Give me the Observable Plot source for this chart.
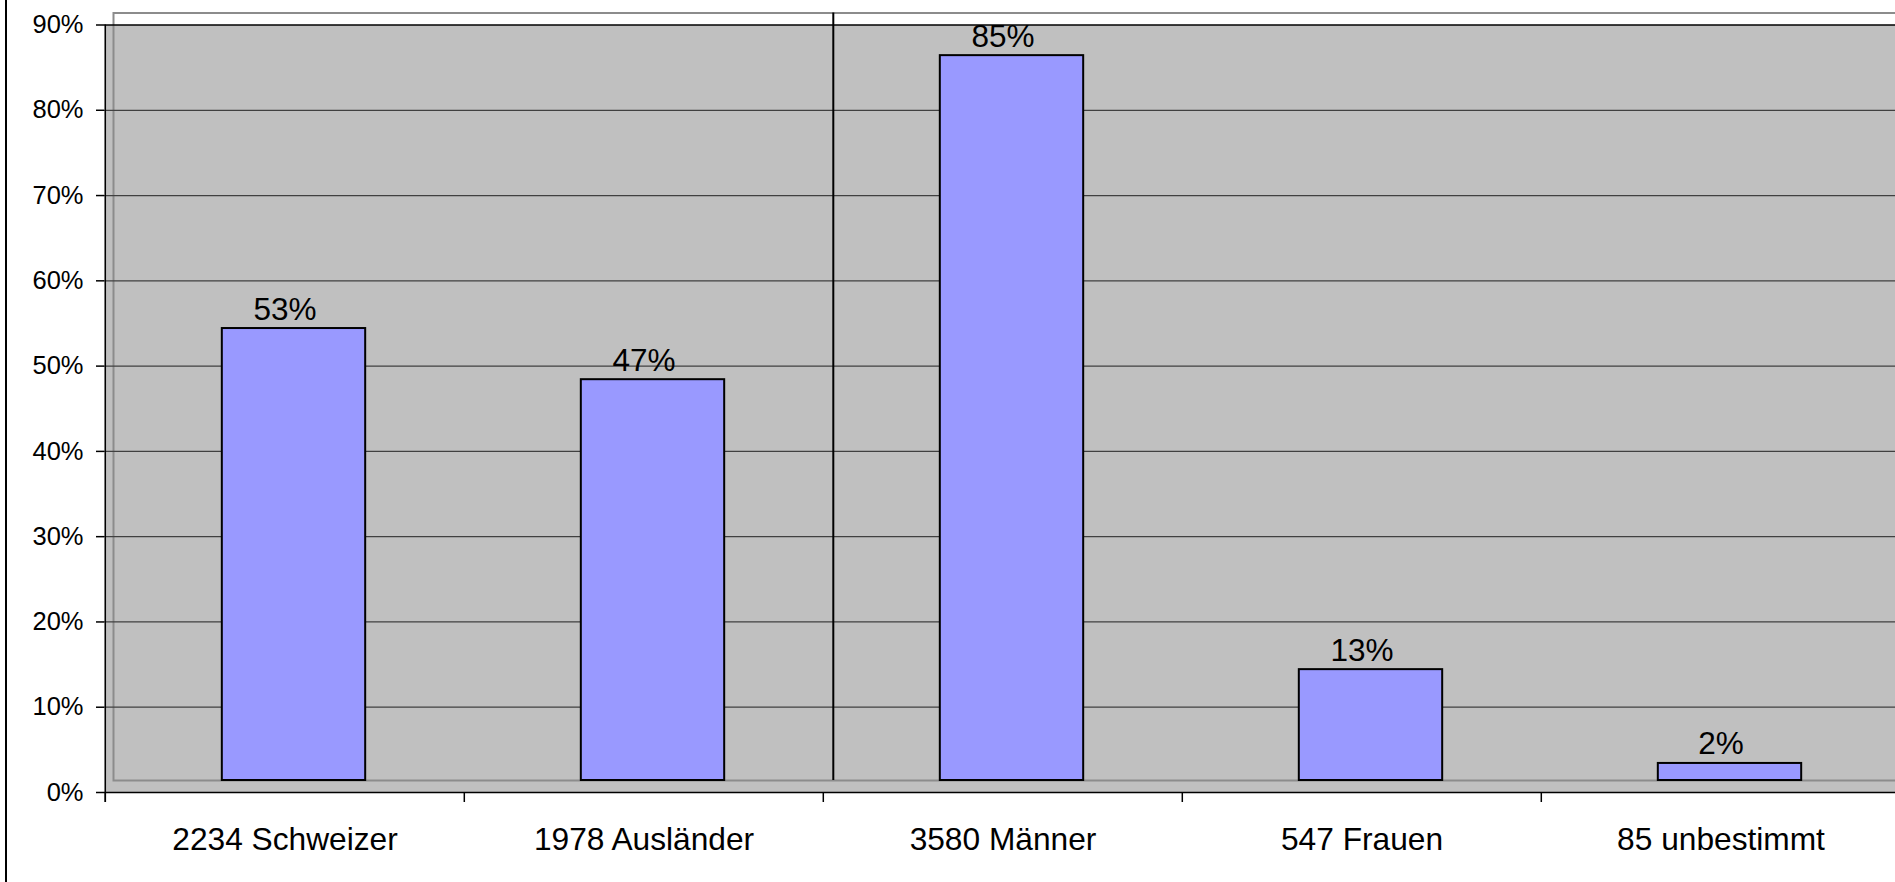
<!DOCTYPE html>
<html><head><meta charset="utf-8">
<script src="https://cdn.jsdelivr.net/npm/d3@7"></script>
<script src="https://cdn.jsdelivr.net/npm/@observablehq/plot@0.6"></script>
<style>
html,body{margin:0;padding:0;overflow:hidden;background:#fff;}
#chart{position:relative;width:1895px;height:882px;overflow:hidden;}
#chart svg{position:absolute;left:0;top:0;}
#border{position:absolute;left:5px;top:0;width:2px;height:882px;background:#000;z-index:2;}
</style></head><body>
<div id="chart"><div id="border"></div></div>
<script>
const categories = ["2234 Schweizer", "1978 Ausländer", "3580 Männer", "547 Frauen", "85 unbestimmt"];
const shares = [53, 47, 85, 13, 2];
const yTicks = [0, 10, 20, 30, 40, 50, 60, 70, 80, 90];
const groupStarts = ["3580 Männer"];

const data = categories.map((c, i) => ({category: c, share: shares[i]}));
const marginLeft = 104, marginRight = 14, width = 1915;
const step = (width - marginLeft - marginRight) / categories.length;
const depthX = 9, depthY = -12;
const font = '"Liberation Sans", Arial, Helvetica, sans-serif';

const chart = Plot.plot({
  width, height: 882, marginLeft, marginRight, marginTop: 24.5, marginBottom: 90,
  style: {fontFamily: font, background: "transparent", color: "#000", overflow: "visible", maxWidth: "none"},
  x: {type: "band", domain: categories, padding: 0, axis: null, label: null},
  y: {domain: [0, 90], axis: null, label: null},
  marks: [
    Plot.frame({fill: "#c0c0c0"}),
    Plot.frame({stroke: "#8c8c8c", strokeWidth: 2, dx: depthX, dy: depthY}),
    Plot.ruleY(yTicks.filter(t => t > 0 && t < 90), {stroke: "#404040", strokeWidth: 1.3}),
    Plot.ruleY([90, 0], {stroke: "#000", strokeWidth: 1.5}),
    Plot.axisY({ticks: yTicks, label: null, tickSize: 8, tickPadding: 13, tickFormat: d => d + "%", fontSize: 25.5, stroke: "#000", fill: "#000", strokeWidth: 1.5}),
    Plot.ruleX(categories, {x: d => d, dx: -step / 2, y1: 0, y2: 0, insetBottom: -10, stroke: "#000", strokeWidth: 1.5}),
    Plot.ruleX([categories[0]], {x: d => d, dx: -step / 2, y1: 90, y2: 0, insetBottom: -10, stroke: "#000", strokeWidth: 1.5}),
    Plot.ruleX(groupStarts, {x: d => d, dx: -step / 2 + 10, dy: depthY, y1: 90, y2: 0, stroke: "#000", strokeWidth: 2}),
    Plot.barY(data, {x: "category", y1: 0, y2: "share", insetLeft: 0.3 * step, insetRight: 0.3 * step, dx: depthX, dy: depthY, fill: "#9999ff", stroke: "#000", strokeWidth: 2}),
    Plot.text(data, {x: "category", y: "share", text: d => d.share + "%", dy: depthY - 9, lineAnchor: "bottom", fontSize: 31.5, fill: "#000"}),
    Plot.axisX({label: null, tickSize: 0, tickPadding: 34.5, fontSize: 31.7, fill: "#000"})
  ]
});
document.getElementById("chart").appendChild(chart);
</script>
</body></html>
